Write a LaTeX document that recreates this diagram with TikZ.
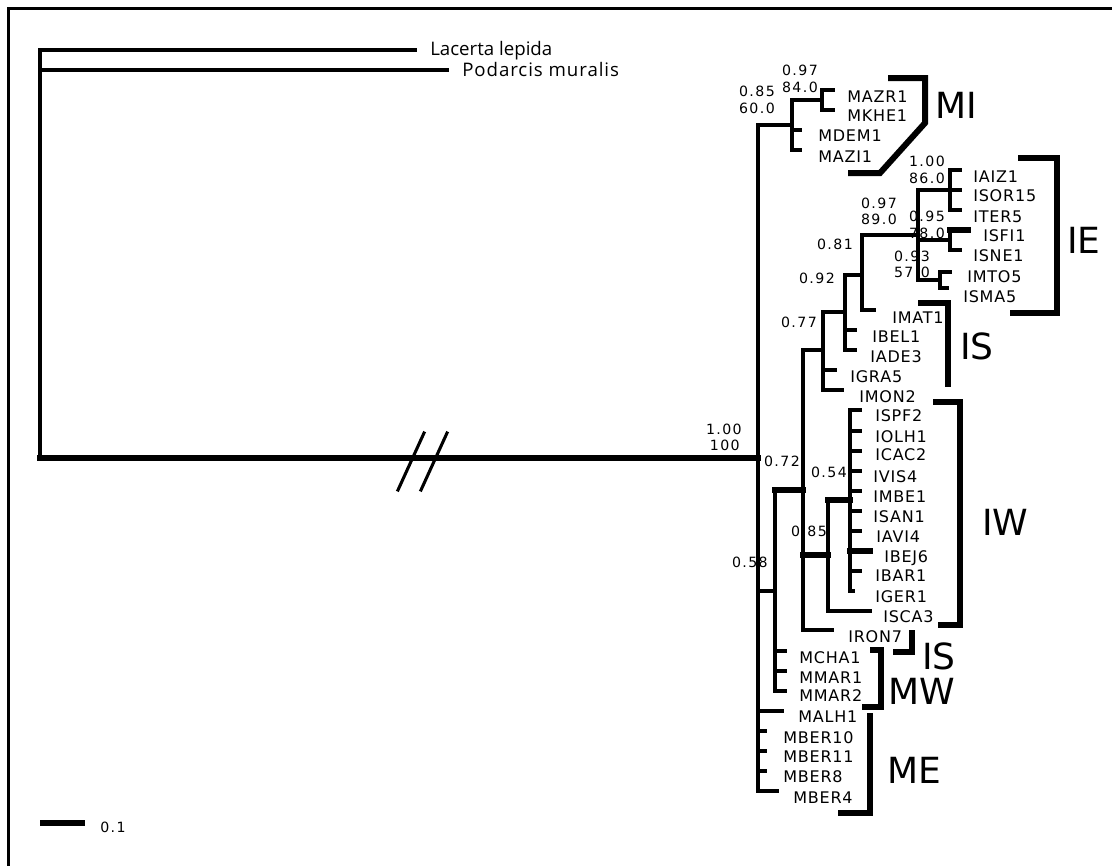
\documentclass[tikz,border=0pt]{standalone}
\usepackage{fontspec}
\newfontfamily\TaxFam[LetterSpace=5]{DejaVu Sans}
\newfontfamily\SupFam[LetterSpace=10]{DejaVu Sans}
\newfontfamily\CladeFam{DejaVu Sans}
\newfontfamily\OutFam{Open Sans}
\newfontfamily\OutFamW[LetterSpace=5]{Open Sans}
\newcommand\TaxFont{\TaxFam\fontsize{12pt}{14pt}\selectfont}
\newcommand\SupFont{\SupFam\fontsize{10.6pt}{12pt}\selectfont}
\newcommand\CladeFont{\CladeFam\fontsize{27pt}{30pt}\selectfont}
\newcommand\OutFont{\OutFam\fontsize{14pt}{16pt}\selectfont}
\newcommand\OutFontW{\OutFamW\fontsize{14pt}{16pt}\selectfont}
\begin{document}
\begin{tikzpicture}[x=0.75pt,y=-0.75pt,
  br/.style={line width=2.3pt,line cap=rect},
  thk/.style={line width=3.8pt,line cap=rect},
  bracket/.style={line width=4.5pt,line join=miter},
  frame/.style={line width=2.2pt},
  tx/.style={anchor=west,inner sep=0pt,text height=8.75pt,text depth=0pt,font=\TaxFont},
  sp/.style={anchor=east,inner sep=0pt,text height=7.7pt,text depth=0pt,font=\SupFont},
  spl/.style={anchor=west,inner sep=0pt,text height=7.7pt,text depth=0pt,font=\SupFont},
  cl/.style={anchor=west,inner sep=0pt,text height=19.7pt,text depth=0pt,font=\CladeFont},
  og/.style={anchor=base west,inner sep=0pt,font=\OutFont}]
\useasboundingbox (0,0) rectangle (1112,865);
\draw[frame] (8.5,866) -- (8.5,8.5) -- (1113,8.5);

% tip end points
\foreach \n/\x/\y in {MAZR1/833/90, MKHE1/833/110, MDEM1/800/130, MAZI1/800/150,
  IAIZ1/960/170, ISOR15/960/190, ITER5/960/210, ISFI1/968/230, ISNE1/960/250,
  IMTO5/950/272, ISMA5/947/288, IMAT1/874/310, IBEL1/855/330, IADE3/855/350,
  IGRA5/835/370, IMON2/842/390, ISPF2/860/410, IOLH1/860/431, ICAC2/860/451,
  IVIS4/860/471, IMBE1/860/491, ISAN1/860/511, IAVI4/860/531, IBEJ6/870/551,
  IBAR1/860/571, IGER1/853/591, ISCA3/870/611, IRON7/832/630,
  MCHA1/785/651, MMAR1/785/671, MMAR2/785/691, MALH1/782/711, MBER10/765/731,
  MBER11/765/751, MBER8/765/771, MBER4/777/791, Lac/415/50, Pod/447/70}
  \coordinate (\n) at (\x,\y);

% internal nodes
\foreach \n/\x/\y in {root/40/458, nIn/758/458, nMI/792/125, nMZ/822/100,
  n58/775/591, n72/803/490, n77/823/350, n92/845/312, n81/862/275, n97/918/235,
  n100/950/190, n95/950/240, n93/940/280, n85/828/555, n54/850/500}
  \coordinate (\n) at (\x,\y);

% horizontal branches
\foreach \p/\c in {nMZ/MAZR1, nMZ/MKHE1, nMI/nMZ, nMI/MDEM1, nMI/MAZI1,
  nIn/nMI, nIn/n58, nIn/MALH1, nIn/MBER10, nIn/MBER11, nIn/MBER8, nIn/MBER4,
  n58/MCHA1, n58/MMAR1, n58/MMAR2, n72/n77, n72/IRON7, n77/n92, n77/IGRA5,
  n77/IMON2, n92/n81, n92/IBEL1, n92/IADE3, n81/n97, n81/IMAT1, n97/n100,
  n97/n95, n97/n93, n100/IAIZ1, n100/ISOR15, n100/ITER5, n95/ISNE1,
  n93/IMTO5, n93/ISMA5, n85/ISCA3, n54/ISPF2, n54/IOLH1, n54/ICAC2, n54/IVIS4,
  n54/IMBE1, n54/ISAN1, n54/IAVI4, n54/IBAR1, n54/IGER1, root/Lac, root/Pod}
  \draw[br] (\p |- \c) -- (\c);
\foreach \p/\c in {n58/n72, n72/n85, n85/n54, n54/IBEJ6, n95/ISFI1, root/nIn}
  \draw[thk] (\p |- \c) -- (\c);

% vertical lines
\foreach \p/\a/\b in {nMZ/MAZR1/MKHE1, nMI/nMZ/MAZI1, nIn/nMI/MBER4,
  n58/n72/MMAR2, n72/n77/IRON7, n77/n92/IMON2, n92/n81/IADE3, n81/n97/IMAT1,
  n97/n100/n93, n100/IAIZ1/ITER5, n95/ISFI1/ISNE1, n93/IMTO5/ISMA5,
  n85/n54/ISCA3, n54/ISPF2/IGER1, root/Lac/root}
  \draw[br] (\p |- \a) -- (\p |- \b);

% break marks
\coordinate (bk1a) at (398,490); \coordinate (bk1b) at (424,433);
\coordinate (bk2a) at (421,490); \coordinate (bk2b) at (447,433);
\draw[br] (bk1a) -- (bk1b);
\draw[br] (bk2a) -- (bk2b);

% taxon labels
\node[og] (lLac) at (430,55.5) {Lacerta lepida};
\node[og,font=\OutFontW] (lPod) at (462,76.5) {Podarcis muralis};
\foreach \n/\x/\y in {MAZR1/847/97, MKHE1/847/116, MDEM1/818/136, MAZI1/818/157,
  IAIZ1/973/177, ISOR15/973/196, ITER5/973/217, ISFI1/983/236, ISNE1/973/256,
  IMTO5/967/277, ISMA5/963/297, IMAT1/892/318, IBEL1/872/337, IADE3/870/357,
  IGRA5/850/377, IMON2/859/397, ISPF2/875/416, IOLH1/875/437, ICAC2/875/455,
  IVIS4/873/477, IMBE1/873/497, ISAN1/873/517, IAVI4/876/537, IBEJ6/884/557,
  IBAR1/875/576, IGER1/875/597, ISCA3/883/617, IRON7/848/637, MCHA1/799/658,
  MMAR1/799/678, MMAR2/799/696, MALH1/798/717, MBER10/783/738, MBER11/783/757,
  MBER8/783/777, MBER4/793/798}
  \node[tx] (l\n) at (\x,\y) {\n};

% support values
\node[sp] (s1) at (818,70) {0.97};
\node[sp] (s2) at (818,87) {84.0};
\node[sp] (s3) at (775,91) {0.85};
\node[sp] (s4) at (775,108) {60.0};
\node[sp] (s5) at (945,161) {1.00};
\node[sp] (s6) at (945,178) {86.0};
\node[sp] (s7) at (897,203) {0.97};
\node[sp] (s8) at (897,219) {89.0};
\node[sp] (s9) at (945,216) {0.95};
\node[sp] (s10) at (945,233) {78.0};
\node[sp] (s11) at (930,256) {0.93};
\node[sp] (s12) at (930,272) {57.0};
\node[sp] (s13) at (853,244) {0.81};
\node[sp] (s14) at (835,278) {0.92};
\node[sp] (s15) at (817,322) {0.77};
\node[sp] (s16) at (742,429) {1.00};
\node[sp] (s17) at (740,445) {100};
\node[sp] (s18) at (800,461) {0.72};
\node[sp] (s19) at (847,472) {0.54};
\node[sp] (s20) at (827,531) {0.85};
\node[sp] (s21) at (768,562) {0.58};

% clade brackets
\coordinate (mi1) at (848,173); \coordinate (mi2) at (880,173);
\coordinate (mi3) at (925,123); \coordinate (mi4) at (925,78);
\coordinate (mi5) at (888,78);
\draw[bracket] (mi1) -- (mi2) -- (mi3) -- (mi4) -- (mi5);
\coordinate (ie1) at (1018,158); \coordinate (ie2) at (1057,158);
\coordinate (ie3) at (1057,313); \coordinate (ie4) at (1010,313);
\draw[bracket] (ie1) -- (ie2) -- (ie3) -- (ie4);
\coordinate (is1) at (918,303); \coordinate (is2) at (948,303);
\coordinate (is3) at (948,387);
\draw[bracket] (is1) -- (is2) -- (is3);
\coordinate (iw1) at (933,402); \coordinate (iw2) at (960,402);
\coordinate (iw3) at (960,625); \coordinate (iw4) at (938,625);
\draw[bracket] (iw1) -- (iw2) -- (iw3) -- (iw4);
\coordinate (js1) at (912,630); \coordinate (js2) at (912,652);
\coordinate (js3) at (893,652);
\draw[bracket] (js1) -- (js2) -- (js3);
\coordinate (mw1) at (870,650); \coordinate (mw2) at (881,650);
\coordinate (mw3) at (881,707); \coordinate (mw4) at (862,707);
\draw[bracket] (mw1) -- (mw2) -- (mw3) -- (mw4);
\coordinate (me1) at (870,713); \coordinate (me2) at (870,813);
\coordinate (me3) at (838,813);
\draw[bracket] (me1) -- (me2) -- (me3);

% clade labels
\node[cl] (cMI) at (935,105) {MI};
\node[cl] (cIE) at (1067,240) {IE};
\node[cl] (cIS) at (960,346) {IS};
\node[cl] (cIW) at (982,522) {IW};
\node[cl] (cIS2) at (922,656) {IS};
\node[cl] (cMW) at (888,691) {MW};
\node[cl] (cME) at (887,770) {ME};

% scale bar
\coordinate (sb1) at (40,823); \coordinate (sb2) at (85,823);
\draw[thk,line cap=butt] (sb1) -- (sb2);
\node[spl] (sbl) at (100,827) {0.1};
\end{tikzpicture}
\end{document}
